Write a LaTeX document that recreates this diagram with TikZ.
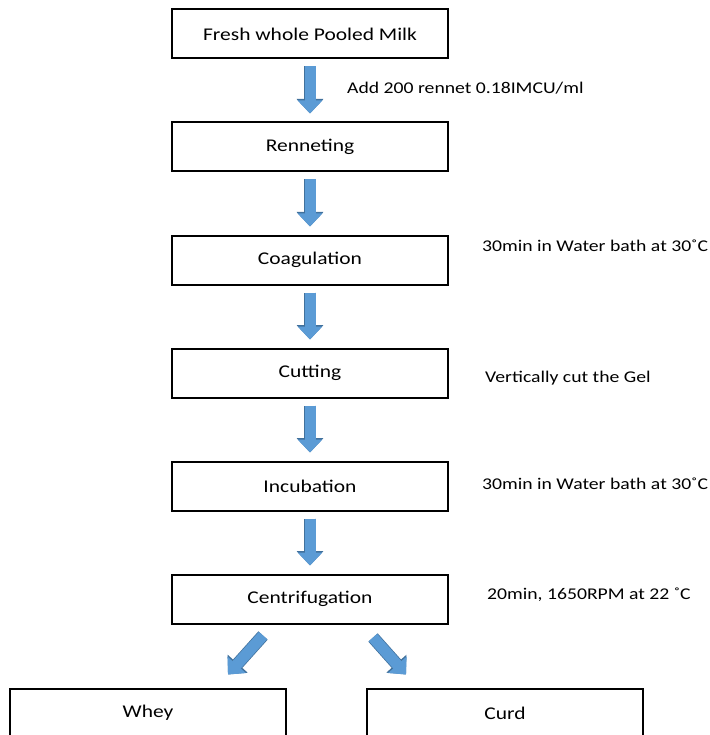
\documentclass[tikz,border=0pt]{standalone}
\usepackage{fontspec}
\setmainfont[FakeStretch=1.2]{Carlito}
\usetikzlibrary{arrows.meta, calc}
\definecolor{arrblue}{HTML}{5B9BD5}
\definecolor{arredge}{HTML}{41719C}

\begin{document}
\begin{tikzpicture}[
    x=1pt, y=-1pt,
    block/.style={rectangle, draw, line width=2pt, minimum width=276pt,
                  minimum height=49pt, inner sep=0pt, font=\fontsize{17.9}{21}\selectfont},
    note/.style={anchor=west, inner sep=0pt, font=\fontsize{16.4}{19}\selectfont},
    arr/.style={arrblue, line width=11pt, -{Triangle[width=24pt, length=13pt]},
                preaction={draw=arredge, line width=12.5pt, -{Triangle[width=26pt, length=14.5pt]}}}
]
\useasboundingbox (0,0) rectangle (709,735);
\clip (0,0) rectangle (709,735);

% process steps
\node[block] (fresh)  at (310,34)  {Fresh whole Pooled Milk};
\node[block] (renn)   at (310,147) {Renneting};
\node[block] (coag)   at (310,260) {Coagulation};
\node[block] (cut)    at (310,373) {Cutting};
\node[block] (incub)  at (310,486) {Incubation};
\node[block] (centri) at (310,599) {Centrifugation};
\node[block] (whey)   at (148,713) {Whey};
\node[block] (curd)   at (505,713) {Curd};

% conditions
\node[note] (addnote)   at (347,88)  {Add 200 rennet 0.18IMCU/ml};
\node[note] (coagnote)  at (482,246) {30min in Water bath at 30˚C};
\node[note] (cutnote)   at (485,378) {Vertically cut the Gel};
\node[note] (incubnote) at (482,484) {30min in Water bath at 30˚C};
\node[note] (centnote)  at (487,595) {20min, 1650RPM at 22 ˚C};

% flow
\draw[arr, shorten <=7pt, shorten >=8pt] (fresh)  -- (renn);
\draw[arr, shorten <=7pt, shorten >=8pt] (renn)   -- (coag);
\draw[arr, shorten <=7pt, shorten >=8pt] (coag)   -- (cut);
\draw[arr, shorten <=7pt, shorten >=8pt] (cut)    -- (incub);
\draw[arr, shorten <=7pt, shorten >=8pt] (incub)  -- (centri);
\draw[arr] ($(centri.south)+(-47,11)$) -- ($(whey.north east)+(-59,-13)$);
\draw[arr] ($(centri.south)+(63,13)$)  -- ($(curd.north west)+(40,-13)$);
\end{tikzpicture}
\end{document}
